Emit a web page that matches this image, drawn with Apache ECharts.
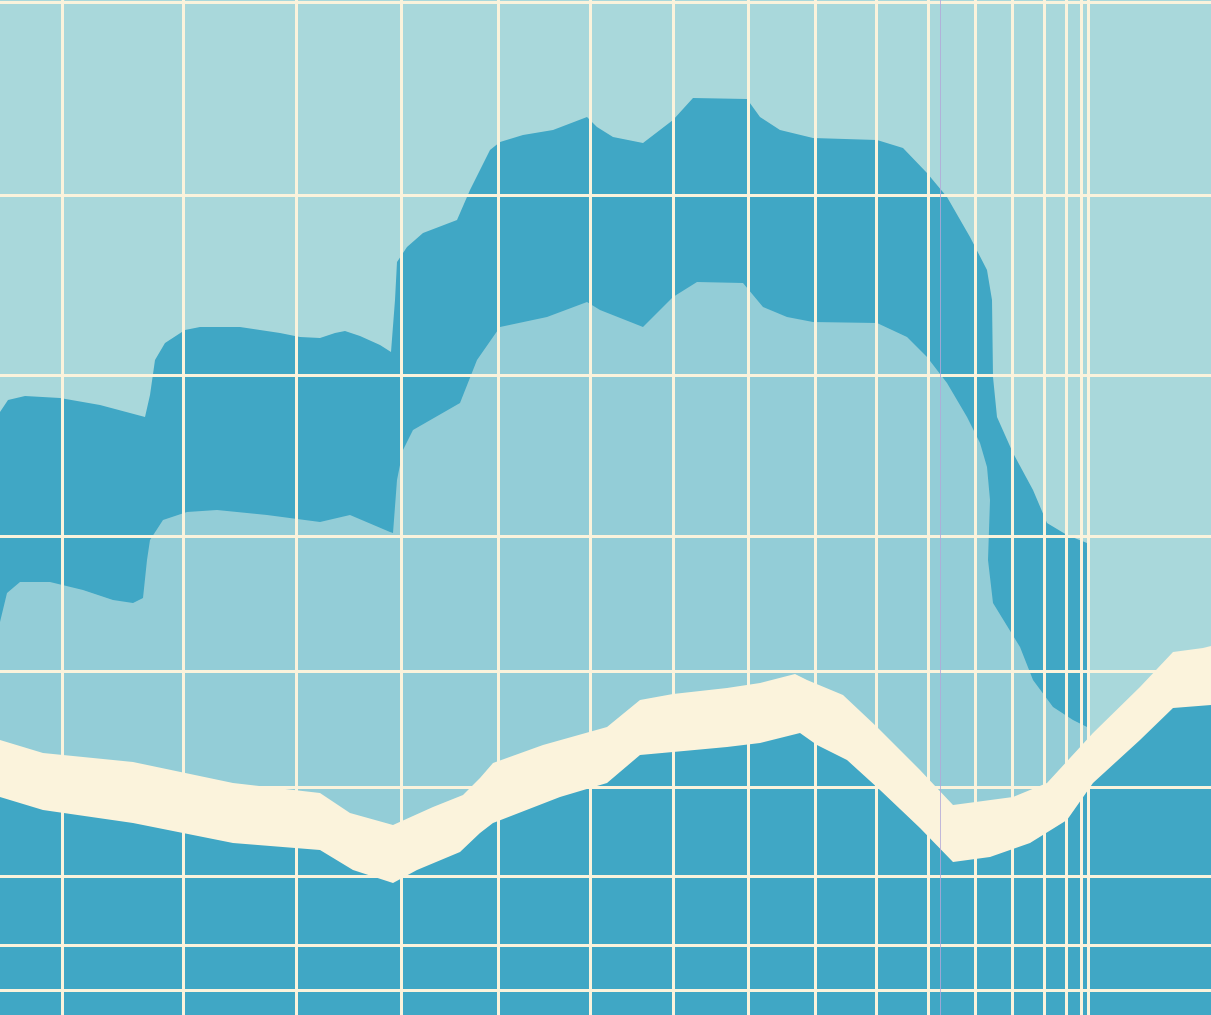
<!DOCTYPE html>
<html>
<head>
<meta charset="utf-8">
<script src="https://cdn.jsdelivr.net/npm/echarts@6/dist/echarts.min.js"></script>
<style>
html,body{margin:0;padding:0;background:#a9d8db;}
#chart{width:1211px;height:1015px;}
</style>
</head>
<body>
<div id="chart"></div>
<script>
// Values: [x, height] pairs, height measured upward from the bottom (0..1015)
const upperBandTop = [[0,603],[8,615],[25,619],[60,617],[100,610],[130,602],[145,598],[150,620],[155,655],[165,672],[185,685],[200,688],[240,688],[280,682],[300,678],[320,677],[335,682],[345,684],[360,679],[380,670],[391,663],[395,715],[397,753],[407,768],[423,782],[457,795],[470,825],[490,865],[500,873],[523,880],[553,885],[587,898],[597,888],[613,878],[643,872],[673,895],[693,917],[747,916],[760,898],[780,885],[813,877],[877,875],[903,867],[927,842],[947,818],[970,778],[987,745],[992,715],[993,638],[997,598],[1013,562],[1033,525],[1047,492],[1067,480],[1087,472]];
const upperBandBottom = [[0,393],[7,422],[20,433],[50,433],[83,425],[113,415],[133,412],[143,417],[147,455],[150,475],[163,495],[187,503],[217,505],[267,500],[320,493],[350,500],[390,483],[393,482],[397,535],[403,565],[413,585],[460,612],[477,655],[500,688],[547,698],[587,713],[600,705],[643,688],[673,718],[697,733],[743,732],[763,708],[787,698],[813,693],[877,692],[907,678],[927,658],[947,632],[967,598],[980,572],[987,548],[990,515],[988,455],[993,412],[1020,368],[1033,335],[1053,308],[1073,295],[1087,288]];
const ribbonTop = [[0,275],[43,262],[133,253],[233,232],[320,222],[350,202],[393,190],[433,208],[463,220],[480,237],[493,252],[543,270],[607,288],[640,315],[673,321],[727,327],[760,332],[795,341],[807,335],[843,320],[877,288],[920,245],[953,210],[1013,218],[1047,232],[1093,282],[1140,328],[1173,363],[1203,367],[1211,369]];
const ribbonBottom = [[0,218],[43,205],[133,192],[233,172],[320,165],[353,145],[393,132],[417,145],[460,163],[480,182],[493,192],[560,218],[607,232],[640,260],[673,263],[727,268],[760,272],[800,282],[817,270],[847,255],[880,225],[920,187],[953,153],[990,158],[1030,172],[1067,195],[1093,232],[1140,275],[1173,307],[1211,310]];
const verticalRules = [62,183,296,401,498,590,673,748,815,876,928,975,1012,1044,1066,1081,1088];
const horizontalRules = [1013,820,640,479,344,228,139,70,25];
const faintRule = [940];

const colors = {bg:'#a9d8db', dark:'#40a7c5', mid:'#93cdd7', cream:'#fbf3dc', faint:'#b3a8d8'};

function area(data, color, z) {
  return {
    type:'line', data:data, showSymbol:false, symbol:'none', smooth:false, silent:true,
    lineStyle:{width:0, color:color}, areaStyle:{color:color, opacity:1}, z:z, animation:false
  };
}

const chart = echarts.init(document.getElementById('chart'), null, {renderer:'canvas'});
chart.setOption({
  backgroundColor: colors.bg,
  animation:false,
  grid:{left:0, right:0, top:0, bottom:0},
  xAxis:{type:'value', min:0, max:1211, show:false, splitLine:{show:false}},
  yAxis:{type:'value', min:0, max:1015, show:false, splitLine:{show:false}},
  series:[
    area(upperBandTop, colors.dark, 1),
    area(upperBandBottom, colors.mid, 2),
    area(ribbonTop, colors.cream, 3),
    area(ribbonBottom, colors.dark, 4),
    {
      type:'line', data:[], z:10, silent:true,
      markLine:{
        silent:true, symbol:['none','none'], animation:false,
        label:{show:false},
        lineStyle:{color:colors.cream, width:3, type:'solid', opacity:1},
        emphasis:{disabled:true},
        data: verticalRules.map(v => ({xAxis:v})).concat(horizontalRules.map(v => ({yAxis:v})))
      }
    },
    {
      type:'line', data:[], z:9, silent:true,
      markLine:{
        silent:true, symbol:['none','none'], animation:false,
        label:{show:false},
        lineStyle:{color:colors.faint, width:1, type:'solid', opacity:0.8},
        data: faintRule.map(v => ({xAxis:v}))
      }
    }
  ]
});
</script>
</body>
</html>
